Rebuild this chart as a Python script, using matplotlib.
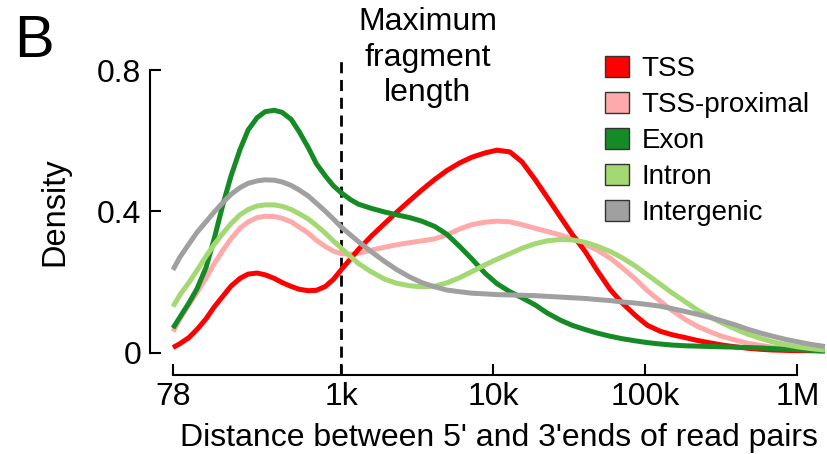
import matplotlib
matplotlib.use('Agg')
import matplotlib.pyplot as plt
from matplotlib.patches import Patch

plt.rcParams['font.family'] = ['Liberation Sans', 'DejaVu Sans']

# distance between read ends (bp)
distance = [78, 86.6, 99.2, 112.1, 128.5, 145.1, 166.4, 187.9, 215.4, 243.3,
            279.0, 315.0, 361.3, 407.9, 467.7, 528.3, 605.7, 683.9, 784.3, 885.6,
            1000, 1147, 1295, 1578, 1922, 2307, 2811, 3375, 4111, 4933,
            6009, 7215, 8789, 10550, 12850, 15420, 18790, 22550, 27480, 32980,
            40180, 48230, 58750, 70510, 85910, 103100, 125600, 150800, 183700, 220400,
            268500, 322300, 392700, 471300, 574200, 689200, 839700, 1008000, 1228000, 1519000]

tss = [0.014, 0.025, 0.042, 0.065, 0.095, 0.128, 0.16, 0.188, 0.21, 0.222,
       0.225, 0.22, 0.21, 0.198, 0.187, 0.179, 0.175, 0.176, 0.187, 0.207,
       0.235, 0.265, 0.292, 0.33, 0.365, 0.397, 0.43, 0.46, 0.49, 0.515,
       0.537, 0.553, 0.565, 0.573, 0.568, 0.54, 0.49, 0.44, 0.385, 0.335,
       0.286, 0.232, 0.178, 0.14, 0.105, 0.077, 0.06, 0.05, 0.042, 0.034,
       0.027, 0.021, 0.016, 0.012, 0.009, 0.007, 0.006, 0.005, 0.005, 0.004]

tss_proximal = [0.059, 0.095, 0.135, 0.17, 0.21, 0.25, 0.29, 0.322, 0.352, 0.37,
                0.382, 0.386, 0.385, 0.38, 0.37, 0.355, 0.338, 0.318, 0.30, 0.287,
                0.28, 0.278, 0.281, 0.29, 0.298, 0.305, 0.311, 0.316, 0.322, 0.333,
                0.35, 0.362, 0.369, 0.372, 0.37, 0.362, 0.352, 0.343, 0.333, 0.322,
                0.306, 0.29, 0.267, 0.24, 0.208, 0.175, 0.145, 0.118, 0.093, 0.074,
                0.058, 0.045, 0.035, 0.026, 0.02, 0.015, 0.012, 0.01, 0.008, 0.007]

exon = [0.069, 0.10, 0.14, 0.18, 0.24, 0.32, 0.42, 0.50, 0.575, 0.63,
        0.665, 0.682, 0.686, 0.68, 0.66, 0.625, 0.58, 0.535, 0.50, 0.472,
        0.452, 0.433, 0.42, 0.408, 0.398, 0.39, 0.382, 0.372, 0.357, 0.335,
        0.30, 0.265, 0.225, 0.195, 0.172, 0.155, 0.135, 0.112, 0.092, 0.077,
        0.065, 0.055, 0.046, 0.039, 0.033, 0.028, 0.024, 0.021, 0.019, 0.018,
        0.017, 0.016, 0.015, 0.014, 0.013, 0.011, 0.009, 0.008, 0.006, 0.005]

intron = [0.13, 0.163, 0.198, 0.232, 0.272, 0.305, 0.338, 0.365, 0.39, 0.405,
          0.415, 0.418, 0.418, 0.414, 0.405, 0.393, 0.378, 0.36, 0.338, 0.316,
          0.295, 0.272, 0.252, 0.228, 0.208, 0.196, 0.189, 0.186, 0.188, 0.197,
          0.212, 0.229, 0.248, 0.264, 0.28, 0.295, 0.308, 0.316, 0.32, 0.319,
          0.312, 0.301, 0.286, 0.268, 0.245, 0.22, 0.193, 0.168, 0.143, 0.12,
          0.10, 0.083, 0.066, 0.052, 0.04, 0.03, 0.022, 0.016, 0.011, 0.007]

intergenic = [0.234, 0.27, 0.307, 0.34, 0.37, 0.397, 0.425, 0.448, 0.467, 0.479,
              0.486, 0.489, 0.488, 0.483, 0.473, 0.46, 0.443, 0.423, 0.40, 0.378,
              0.355, 0.333, 0.314, 0.285, 0.258, 0.235, 0.214, 0.198, 0.186, 0.177,
              0.172, 0.168, 0.166, 0.164, 0.163, 0.162, 0.161, 0.159, 0.157, 0.155,
              0.153, 0.15, 0.147, 0.143, 0.14, 0.136, 0.131, 0.124, 0.116, 0.108,
              0.099, 0.089, 0.078, 0.066, 0.055, 0.046, 0.037, 0.03, 0.023, 0.017]

labels = ['TSS', 'TSS-proximal', 'Exon', 'Intron', 'Intergenic']
series = [tss, tss_proximal, exon, intron, intergenic]
colors = ['#ff0000', '#ffaaaa', '#148b25', '#a4d872', '#a0a0a0']
zorders = [3, 2, 4, 5, 6]

xticks = [78, 1000, 10000, 100000, 1000000]
xticklabels = ['78', '1k', '10k', '100k', '1M']
yticks = [0, 0.4, 0.8]
yticklabels = ['0', '0.4', '0.8']

fig = plt.figure(figsize=(8.28, 4.54), dpi=100)
ax = fig.add_axes([173/828, 1 - 352.5/454, 652/828, 282.5/454])

for vals, c, z in zip(series, colors, zorders):
    ax.plot(distance, vals, color=c, lw=3.6, zorder=z, clip_on=False,
            solid_capstyle='butt', solid_joinstyle='round')

ax.set_xscale('log')
ax.set_xlim(78, 1.52e6)
ax.set_ylim(0, 0.8)

# fragment size cut-off
ax.plot([1000, 1000], [-0.064, 0.834], color='black', lw=2, ls=(0, (4, 2.4)),
        clip_on=False, zorder=1)
fig.text(428/828, 1 - 7/454, 'Maximum\nfragment\nlength', ha='center', va='top',
         fontsize=23, linespacing=1.24)

ax.spines['top'].set_visible(False)
ax.spines['right'].set_visible(False)
ax.spines['left'].set_position(('outward', 16.5))
ax.spines['bottom'].set_position(('outward', 16.5))
ax.spines['left'].set_bounds(0, 0.8)
ax.spines['bottom'].set_bounds(78, 1e6)
for s in ['left', 'bottom']:
    ax.spines[s].set_linewidth(1.5)

ax.set_xticks(xticks)
ax.set_xticklabels(xticklabels)
ax.xaxis.set_minor_locator(matplotlib.ticker.NullLocator())
ax.set_yticks(yticks)
ax.set_yticklabels(yticklabels)
ax.tick_params(direction='in', length=8, width=1.5, labelsize=23)
ax.tick_params(axis='x', pad=5)
ax.tick_params(axis='y', pad=6.5)

ax.set_xlabel('Distance between 5\' and 3\'ends of read pairs', fontsize=23, labelpad=8)
ax.set_ylabel('Density', fontsize=23.5, labelpad=19)

handles = [Patch(facecolor=c, edgecolor='#333333', lw=1) for c in colors]
fig.legend(handles, labels, loc='upper left', bbox_to_anchor=(605/828, 1 - 56/454),
           frameon=False, fontsize=20, handlelength=0.86, handleheight=0.76,
           handletextpad=0.45, labelspacing=0.36, borderaxespad=0, borderpad=0)

fig.text(14/828, 1 - 14/454, 'B', fontsize=43, va='top', ha='left')

fig.savefig('out.png', dpi=100)
